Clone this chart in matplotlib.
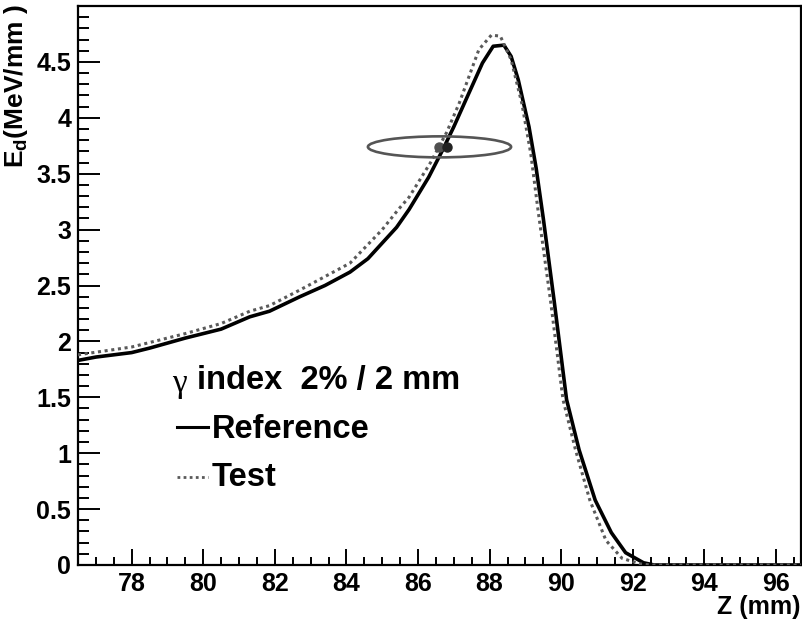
import matplotlib.pyplot as plt
from matplotlib.patches import Ellipse
from matplotlib.lines import Line2D
from matplotlib.ticker import MultipleLocator

plt.rcParams['font.family'] = ['Liberation Sans', 'DejaVu Sans']
plt.rcParams['font.weight'] = 'bold'
plt.rcParams['mathtext.fontset'] = 'custom'
plt.rcParams['mathtext.rm'] = 'Liberation Sans:bold'
plt.rcParams['mathtext.bf'] = 'Liberation Sans:bold'
plt.rcParams['mathtext.it'] = 'Liberation Sans:bold'

# courbe de reference (trait plein)
ref_z = [76.5, 77.0, 78.0, 78.5, 79.5, 80.5, 81.3, 81.85, 82.7, 83.4, 84.1, 84.6,
         85.0, 85.4, 85.75, 86.3, 86.7, 87.0, 87.35, 87.8, 88.1, 88.4, 88.6, 88.8,
         89.1, 89.3, 89.5, 89.8, 90.15, 90.5, 90.95, 91.4, 91.8, 92.3, 92.6, 96.7]
ref_ed = [1.83, 1.86, 1.90, 1.94, 2.03, 2.11, 2.22, 2.27, 2.40, 2.50, 2.62, 2.74,
          2.88, 3.02, 3.18, 3.47, 3.72, 3.92, 4.17, 4.49, 4.64, 4.65, 4.55, 4.34,
          3.92, 3.55, 3.10, 2.37, 1.48, 1.03, 0.58, 0.29, 0.11, 0.02, 0.0, 0.0]

# courbe test (pointilles)
test_z = [76.5, 78.0, 79.5, 80.5, 81.3, 81.85, 82.7, 84.1, 85.0, 85.45, 85.75,
          86.35, 86.8, 87.15, 87.7, 88.05, 88.3, 88.6, 88.9, 89.15, 89.35, 89.7,
          90.05, 90.4, 90.8, 91.25, 91.7, 92.2, 92.5, 96.7]
test_ed = [1.88, 1.95, 2.07, 2.16, 2.27, 2.32, 2.46, 2.70, 3.00, 3.18, 3.29,
           3.60, 3.87, 4.13, 4.61, 4.74, 4.73, 4.52, 4.13, 3.68, 3.18, 2.37,
           1.48, 1.03, 0.58, 0.22, 0.06, 0.01, 0.0, 0.0]

# point gamma et ellipse 2% / 2 mm
gamma_test = (86.60, 3.74)
gamma_ref = (86.80, 3.74)
dta_mm = 2.0
dd_tol = 0.02 * 4.7

fig = plt.figure(figsize=(8.03, 6.26), dpi=100)
ax = fig.add_axes([78 / 803, 61 / 626, 723 / 803, 559 / 626])

ax.plot(ref_z, ref_ed, color='black', lw=2.6, zorder=3)
ax.plot(test_z, test_ed, color='#5a5a5a', lw=2.2, linestyle=(0, (1, 1.2)),
        dash_capstyle='butt', zorder=4)

ax.add_patch(Ellipse(gamma_test, 2 * dta_mm, 2 * dd_tol, fill=False,
                     edgecolor='#555555', lw=1.9, zorder=5))
ax.plot(*gamma_test, 'o', color='#505050', ms=6.5, zorder=6)
ax.plot(*gamma_ref, 'o', color='#222222', ms=6.5, zorder=6)

ax.set_xlim(76.5, 96.7)
ax.set_ylim(0, 5.0)
ax.xaxis.set_major_locator(MultipleLocator(2))
ax.xaxis.set_minor_locator(MultipleLocator(0.5))
ax.yaxis.set_major_locator(MultipleLocator(0.5))
ax.yaxis.set_minor_locator(MultipleLocator(0.1))
# pas d'etiquette au bord haut (comme ROOT)
ax.yaxis.set_major_formatter(plt.FuncFormatter(lambda v, p: '' if v > 4.9 else '%g' % v))

ax.tick_params(axis='both', which='both', direction='in', width=1.4,
               labelsize=18, top=False, right=False)
ax.tick_params(axis='y', which='major', length=16, pad=5)
ax.tick_params(axis='y', which='minor', length=8)
ax.tick_params(axis='x', which='major', length=11.5, pad=5)
ax.tick_params(axis='x', which='minor', length=6)
for lab in ax.get_xticklabels() + ax.get_yticklabels():
    lab.set_fontweight('bold')
for s in ax.spines.values():
    s.set_linewidth(1.6)

fig.text(16 / 803, 1 - 4 / 626, r'$\mathbf{E_{d}}$(MeV/mm )', rotation=90,
         ha='center', va='top', fontsize=19, fontweight='bold')
fig.text(801 / 803, 1 - 607 / 626, 'Z (mm)', ha='right', va='center',
         fontsize=18, fontweight='bold')

# legende faite a la main
fig.text(172 / 803, 1 - 384 / 626, 'γ', family='Liberation Serif',
         fontweight='normal', fontsize=24, ha='left', va='center')
fig.text(197 / 803, 1 - 381 / 626, 'index  2% / 2 mm', fontsize=23.5,
         fontweight='bold', ha='left', va='center')
fig.add_artist(Line2D([177 / 803, 208 / 803], [1 - 427 / 626, 1 - 427 / 626],
                      color='black', lw=2.2))
fig.text(212 / 803, 1 - 430 / 626, 'Reference', fontsize=23.5,
         fontweight='bold', ha='left', va='center')
fig.add_artist(Line2D([177 / 803, 208 / 803], [1 - 477 / 626, 1 - 477 / 626],
                      color='#5a5a5a', lw=2.0, linestyle=(0, (1, 1.2))))
fig.text(212 / 803, 1 - 478 / 626, 'Test', fontsize=23.5,
         fontweight='bold', ha='left', va='center')

fig.savefig('out.png', dpi=100)
